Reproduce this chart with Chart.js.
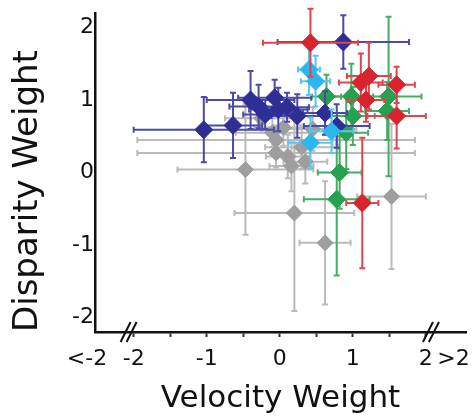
<!DOCTYPE html>
<html>
<head>
<meta charset="utf-8">
<script src="https://cdn.jsdelivr.net/npm/chart.js@4.4.0/dist/chart.umd.min.js"></script>
<style>
html,body{margin:0;padding:0;background:#fff;}
</style>
</head>
<body>
<canvas id="grafica" width="476" height="420"></canvas>
<script>
// valores: peso velocidad (x), peso disparidad (y), errores +/-
const azulX=[-1.04,-0.64,-0.40,-0.29,-0.07,-0.02,0.24,0.62,0.87,0.78,-0.20,0.10];
const azulY=[0.59,0.65,1.00,0.91,1.03,0.87,0.78,0.82,1.80,0.64,0.80,0.90];
const azulErrX=[0.96,0.40,0.60,0.40,0.50,0.40,0.35,0.30,0.90,0.45,0.30,0.30];
const azulErrY=[0.45,0.45,0.40,0.30,0.25,0.30,0.30,0.30,0.37,0.30,0.20,0.20];

const rojoX=[0.42,1.22,1.11,1.60,1.13,1.18,1.60];
const rojoY=[1.79,1.33,1.24,0.78,-0.42,1.00,1.21];
const rojoErrX=[0.65,0.30,0.30,0.40,0.22,0.25,0.25];
const rojoErrY=[0.47,0.46,0.40,0.45,0.90,0.30,0.25];

const celesteX=[0.40,0.49,0.42,0.71];
const celesteY=[1.42,1.26,0.41,0.57];
const celesteErrX=[0.15,0.20,0.30,0.30];
const celesteErrY=[0.35,0.35,0.35,0.30];

const verdeX=[0.98,1.49,1.47,0.82,0.78,0.91,0.64,1.00];
const verdeY=[1.05,1.05,0.85,0.00,-0.37,0.55,1.05,0.78];
const verdeErrX=[0.30,0.45,0.30,0.30,0.45,0.30,0.20,0.30];
const verdeErrY=[0.45,1.10,0.40,0.50,1.05,0.50,0.30,0.40];

const grisX=[-0.47,0.20,0.62,1.53,0.11,0.16,-0.05,-0.05,-0.25,0.05,0.30,-0.10,0.35,0.45];
const grisY=[0.04,-0.56,-0.97,-0.33,0.22,0.09,0.45,0.27,0.75,0.62,0.35,0.55,0.15,0.60];
const grisErrX=[0.93,0.82,0.35,0.47,0.30,0.30,1.90,1.90,0.50,0.40,0.50,0.50,0.30,0.60];
const grisErrY=[0.90,1.35,0.85,1.00,0.30,0.35,0.20,0.20,0.20,0.25,0.30,0.20,0.30,0.30];

const xTicks=[-2.64,-2,-1.5,-1,-0.5,0,0.5,1,1.5,2,2.38];
const xTickLabels=['<-2','-2','','-1','','0','','1','','2','>2'];
const yTicks=[-2,-1,0,1,2];

function puntos(xs,ys,ex,ey){
    return xs.map((x,i)=>({x:x,y:ys[i],ex:ex[i],ey:ey[i]}));
}

function serie(datos,color,colorErr,radio){
    return {
        data:datos,
        backgroundColor:color,
        borderColor:color,
        borderWidth:1,
        pointStyle:'rectRot',
        pointRadius:radio,
        errColor:colorErr
    };
}

// barras de error dibujadas con las escalas del grafico
const barrasError={
    id:'barrasError',
    beforeDatasetDraw(chart,args){
        const ds=chart.data.datasets[args.index];
        const sx=chart.scales.x, sy=chart.scales.y;
        const ctx=chart.ctx;
        ctx.save();
        ctx.strokeStyle=ds.errColor;
        ctx.lineWidth=2;
        ds.data.forEach(p=>{
            const cx=sx.getPixelForValue(p.x), cy=sy.getPixelForValue(p.y);
            const x0=sx.getPixelForValue(p.x-p.ex), x1=sx.getPixelForValue(p.x+p.ex);
            const y0=sy.getPixelForValue(p.y-p.ey), y1=sy.getPixelForValue(p.y+p.ey);
            ctx.beginPath();
            ctx.moveTo(x0,cy);ctx.lineTo(x1,cy);
            ctx.moveTo(cx,y0);ctx.lineTo(cx,y1);
            ctx.moveTo(x0,cy-3);ctx.lineTo(x0,cy+3);
            ctx.moveTo(x1,cy-3);ctx.lineTo(x1,cy+3);
            ctx.moveTo(cx-3,y0);ctx.lineTo(cx+3,y0);
            ctx.moveTo(cx-3,y1);ctx.lineTo(cx+3,y1);
            ctx.stroke();
        });
        ctx.restore();
    }
};

// marcas de corte // en el eje x
const cortes={
    id:'cortes',
    afterDraw(chart){
        const sx=chart.scales.x;
        const ctx=chart.ctx;
        const y=chart.chartArea.bottom;
        ctx.save();
        ctx.strokeStyle='#111';
        ctx.lineWidth=2;
        [-2.07,2.07].forEach(v=>{
            const cx=sx.getPixelForValue(v);
            [-3,3].forEach(d=>{
                ctx.beginPath();
                ctx.moveTo(cx+d-5,y+10);
                ctx.lineTo(cx+d+5,y-10);
                ctx.stroke();
            });
        });
        ctx.restore();
    }
};

const fuente='DejaVu Sans';

new Chart(document.getElementById('grafica'),{
    type:'scatter',
    data:{
        datasets:[
            serie(puntos(rojoX,rojoY,rojoErrX,rojoErrY),'#d9232e','#e0454c',9),
            serie(puntos(celesteX,celesteY,celesteErrX,celesteErrY),'#2ab7ef','#5cc5ee',9),
            serie(puntos(azulX,azulY,azulErrX,azulErrY),'#2e2f94','#4a4aa8',9),
            serie(puntos(verdeX,verdeY,verdeErrX,verdeErrY),'#27a04f','#45ad63',9),
            serie(puntos(grisX,grisY,grisErrX,grisErrY),'#9e9e9e','#bababa',8)
        ]
    },
    options:{
        responsive:false,
        animation:false,
        layout:{padding:{top:13,left:0,right:0,bottom:0}},
        plugins:{legend:{display:false},tooltip:{enabled:false}},
        scales:{
            x:{
                type:'linear',
                min:-2.53,
                max:2.55,
                afterBuildTicks(s){s.ticks=xTicks.map(v=>({value:v}));},
                afterFit(s){s.height=88;s.paddingLeft=0;s.paddingRight=0;},
                ticks:{
                    autoSkip:false,
                    maxRotation:0,
                    padding:9,
                    color:'#111',
                    font:{family:fuente,size:22},
                    callback:(v,i)=>xTickLabels[i]
                },
                grid:{
                    drawOnChartArea:false,
                    tickLength:5,
                    tickWidth:2,
                    tickColor:c=>(c.tick&&Math.abs(c.tick.value)>2.1)?'rgba(0,0,0,0)':'#333'
                },
                border:{color:'#111',width:2.5},
                title:{display:true,text:'Velocity Weight',color:'#111',font:{family:fuente,size:31},padding:{top:0,bottom:2}}
            },
            y:{
                min:-2.2,
                max:2.2,
                afterBuildTicks(s){s.ticks=yTicks.map(v=>({value:v}));},
                afterFit(s){s.width=95;s.paddingTop=0;s.paddingBottom=0;},
                ticks:{padding:1,color:'#111',font:{family:fuente,size:22}},
                grid:{drawOnChartArea:false,tickLength:0},
                border:{color:'#111',width:2.5},
                title:{display:true,text:'Disparity Weight',align:'start',color:'#111',font:{family:fuente,size:34},padding:{top:8,bottom:0}}
            }
        }
    },
    plugins:[barrasError,cortes]
});
</script>
</body>
</html>
